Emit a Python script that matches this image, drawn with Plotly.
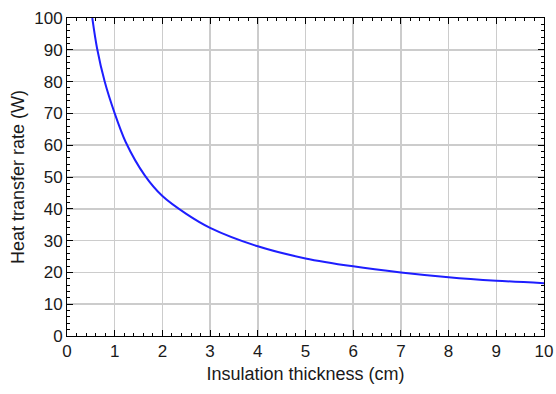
import plotly.graph_objects as go

thickness_cm = [0.53, 0.63, 0.79, 1.0, 1.23, 1.63, 2.0, 2.5, 3.0, 4.0, 5.0, 6.0, 7.0, 8.0, 9.0, 10.0]
heat_rate_w = [100, 90.5, 80, 70, 61, 50.5, 44, 38.4, 34.0, 28.2, 24.4, 21.9, 20.0, 18.5, 17.4, 16.6]

x_ticks = list(range(0, 11))
y_ticks = list(range(0, 101, 10))

fig = go.Figure()
fig.add_trace(go.Scatter(
    x=thickness_cm, y=heat_rate_w, mode="lines",
    line=dict(color="rgb(30,30,255)", width=2, shape="spline", smoothing=0.8),
    showlegend=False, hoverinfo="skip",
))

font_family = "Liberation Sans, Arial, sans-serif"
axis_common = dict(
    showline=True, linecolor="black", linewidth=1, mirror="allticks",
    ticks="inside", ticklen=6, tickcolor="black", tickwidth=1,
    showgrid=True, gridcolor="#cccccc", gridwidth=1.5,
    zeroline=False, automargin=False,
    tickfont=dict(family=font_family, size=17, color="#1a1a1a"),
)

fig.update_xaxes(
    range=[0, 10], tickvals=x_ticks, ticktext=[str(v) for v in x_ticks],
    title=dict(text="Insulation thickness (cm)", font=dict(family=font_family, size=18, color="#1a1a1a"), standoff=6),
    minor=dict(dtick=0.2, ticks="inside", ticklen=3, tickcolor="black", showgrid=False),
    **axis_common,
)
fig.update_yaxes(
    range=[0, 100], tickvals=y_ticks, ticktext=[str(v) for v in y_ticks],
    title=dict(text="Heat transfer rate (W)", font=dict(family=font_family, size=18, color="#1a1a1a"), standoff=4),
    minor=dict(dtick=2, ticks="inside", ticklen=3, tickcolor="black", showgrid=False),
    **axis_common,
)

fig.update_layout(
    width=556, height=394,
    margin=dict(l=67, r=12, t=18, b=58),
    paper_bgcolor="white", plot_bgcolor="white",
)

fig.write_html(
    "out.html",
    config={"displayModeBar": False, "staticPlot": True},
    post_script="document.body.style.margin='0';document.body.style.overflow='hidden';",
)
